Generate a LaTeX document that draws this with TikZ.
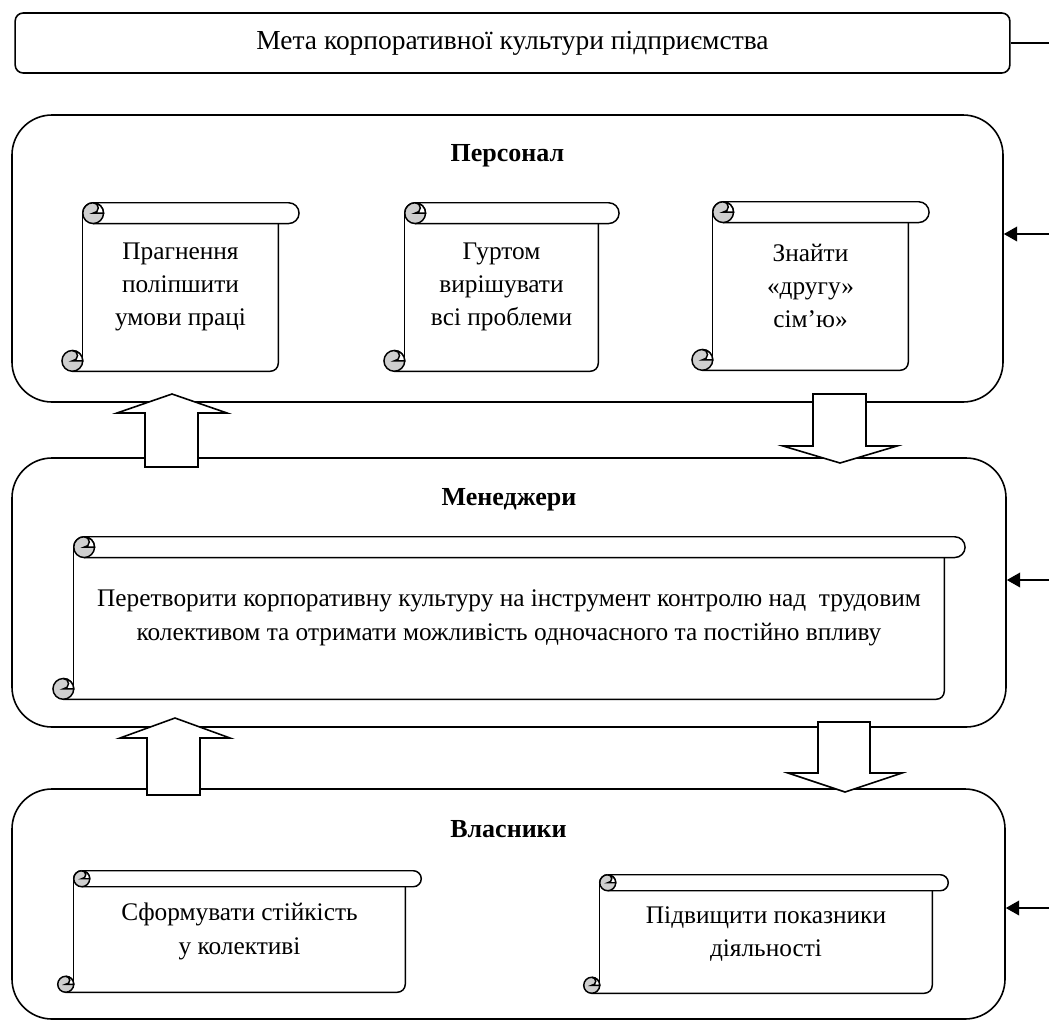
\documentclass[tikz,border=0pt]{standalone}
\usepackage{fontspec}
\setmainfont{Liberation Serif}
\usetikzlibrary{positioning,arrows.meta}
\definecolor{CurlGray}{HTML}{CFCFCF}

% rolled sheet drawn round a node: #1 node name, #2 radius of the roll
\newcommand{\drawscroll}[2]{%
  \draw[scrollline] ([yshift=-#2]#1.north west) arc(180:90:#2) -- ([xshift=#2]#1.north east)
    arc(90:-90:#2) -- ([xshift=#2,yshift=-2*#2]#1.north west);
  \filldraw[scrollline, curl] ([xshift=#2,yshift=-#2]#1.north west) circle(#2);
  \filldraw[scrollline, fill=white] ([xshift=#2]#1.north west) arc(90:-90:#2/2)
    -- ([xshift=2*#2,yshift=-#2]#1.north west) arc(0:90:#2) -- cycle;
  \draw[scrollline] ([yshift=-#2]#1.north west) -- ([yshift=#2]#1.south west);
  \draw[scrollline, rounded corners=6pt] ([yshift=-2*#2]#1.north east) -- (#1.south east) -- ([xshift=-#2]#1.south west);
  \filldraw[scrollline, curl] ([xshift=-#2,yshift=#2]#1.south west) circle(#2);
  \filldraw[scrollline, fill=white] ([xshift=-#2,yshift=2*#2]#1.south west) arc(90:-90:#2/2)
    -- ([yshift=#2]#1.south west) arc(0:90:#2) -- cycle;
}

\begin{document}
\begin{tikzpicture}[
  x=0.75pt, y=-0.75pt,
  every node/.style={align=center, font=\fontsize{19}{25}\selectfont},
  goalbox/.style={draw, line width=1.2pt, rounded corners=6pt, minimum width=746pt, minimum height=45pt,
    font=\fontsize{20.6}{25}\selectfont},
  panel/.style={draw, line width=1.2pt, rounded corners=30pt},
  heading/.style={font=\fontsize{19.5}{25}\selectfont\bfseries},
  scroll/.style={inner sep=0pt},
  scrollline/.style={line width=1.1pt},
  curl/.style={fill=CurlGray},
  feed/.style={line width=1.2pt, -{Triangle[length=10pt,width=11pt]}},
  bigarrow/.style={draw, line width=1.2pt, fill=white, line join=miter}
]
\useasboundingbox (0,0) rectangle (1049,1021);

\node[goalbox] (goal) at (512.5,43) {Мета корпоративної культури підприємства};

% panels
\node[panel, minimum width=743.25pt, minimum height=215.25pt] (personal) at (507.5,258.5) {};
\node[panel, minimum width=745.5pt, minimum height=201.75pt] (managers) at (509,592.5) {};
\node[panel, minimum width=744.75pt, minimum height=172.5pt] (owners) at (508.5,904) {};

\node[heading] (personaltitle) at ([yshift=-31.5pt]personal.north) {Персонал};
\node[heading] (managerstitle) at ([yshift=-32pt]managers.north) {Менеджери};
\node[heading] (ownerstitle) at ([yshift=-31pt]owners.north) {Власники};

% scrolls
\node[scroll, minimum width=146.25pt, minimum height=126pt] (wish) at (180.5,287) {Прагнення\\поліпшити\\умови праці};
\node[scroll, minimum width=144.75pt, minimum height=126pt] (team) at (501.5,287) {Гуртом\\вирішувати\\всі проблеми};
\node[scroll, minimum width=146.25pt, minimum height=126pt] (family) at (810.5,286) {Знайти\\«другу»\\сім’ю»};
\node[scroll, minimum width=652.5pt, minimum height=121.5pt] (control) at (509,618) {Перетворити корпоративну культуру на інструмент контролю над~ трудовим\\колективом та отримати можливість одночасного та постійно впливу};
\node[scroll, minimum width=248.25pt, minimum height=90.75pt] (stable) at (239.5,931.5) {Сформувати стійкість\\у колективі};
\node[scroll, minimum width=249pt, minimum height=88.5pt] (results) at (766,934) {Підвищити показники\\діяльності};

\drawscroll{wish}{7.8pt}
\drawscroll{team}{7.8pt}
\drawscroll{family}{7.8pt}
\drawscroll{control}{7.8pt}
\drawscroll{stable}{6pt}
\drawscroll{results}{6pt}

% block arrows between the levels
\draw[bigarrow] (145,467) -- (145,413) -- (117,413) -- (172,394) -- (227,413) -- (198,413) -- (198,467) -- cycle;
\draw[bigarrow] (813,394) -- (866,394) -- (866,446) -- (897,446) -- (840,463) -- (783,446) -- (813,446) -- cycle;
\draw[bigarrow] (147,795) -- (147,738) -- (120,738) -- (175,718) -- (230,738) -- (200,738) -- (200,795) -- cycle;
\draw[bigarrow] (818,722) -- (870,722) -- (870,773) -- (902,773) -- (845,792) -- (788,773) -- (818,773) -- cycle;

% lines on the right
\coordinate (feedP) at (1049,234);
\coordinate (feedM) at (1049,580);
\coordinate (feedO) at (1049,908);
\draw[line width=1.2pt] (goal.east) -- (goal.east -| feedP);
\draw[feed] (feedP) -- (feedP -| personal.east);
\draw[feed] (feedM) -- (feedM -| managers.east);
\draw[feed] (feedO) -- (feedO -| owners.east);

\end{tikzpicture}
\end{document}
